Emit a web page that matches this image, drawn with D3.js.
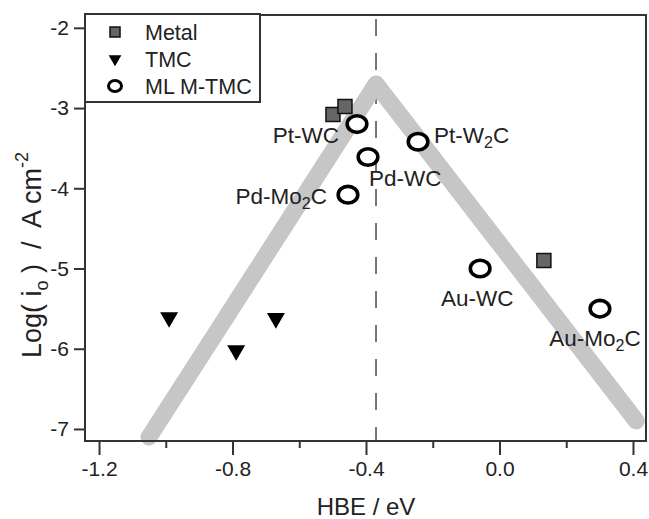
<!DOCTYPE html>
<html>
<head>
<meta charset="utf-8">
<script src="https://cdn.jsdelivr.net/npm/d3@7"></script>
<style>
  body { margin: 0; background: #fff; }
  svg text { font-family: "Liberation Sans", Arial, sans-serif; fill: #222; }
</style>
</head>
<body>
<svg id="chart" width="649" height="519"></svg>
<script>
// data
var metalHBE = [-0.499, -0.463, 0.133];
var metalLog = [-3.08, -2.98, -4.90];

var tmcHBE = [-0.990, -0.789, -0.670];
var tmcLog = [-5.61, -6.02, -5.62];

var mlNames = ["Pt-WC", "Pd-WC", "Pd-Mo2C", "Pt-W2C", "Au-WC", "Au-Mo2C"];
var mlHBE = [-0.427, -0.394, -0.454, -0.244, -0.058, 0.301];
var mlLog = [-3.20, -3.61, -4.08, -3.42, -5.00, -5.50];

// volcano guide line
var volcanoHBE = [-1.05, -0.37, 0.41];
var volcanoLog = [-7.1, -2.7, -6.9];
var optimumHBE = -0.37;

var xTicks = [-1.2, -0.8, -0.4, 0.0, 0.4];
var xMinorTicks = [-1.0, -0.6, -0.2, 0.2];
var yTicks = [-2, -3, -4, -5, -6, -7];

var legendNames = ["Metal", "TMC", "ML M-TMC"];

// label placement next to each ML marker: [dx, dy, anchor]
var labelPlace = [
  [-18, 11, "end"],
  [1, 21, "start"],
  [-21, 1, "end"],
  [16, -7, "start"],
  [-3, 29, "middle"],
  [-5, 29, "middle"]
];

var svg = d3.select("#chart");
var pLeft = 85, pRight = 646, pTop = 15, pBottom = 441;

var x = d3.scaleLinear().domain([-1.242, 0.439]).range([pLeft, pRight]);
var y = d3.scaleLinear().domain([-7.15, -1.84]).range([pBottom, pTop]);

// dashed line at the optimum
svg.append("line")
  .attr("x1", x(optimumHBE)).attr("x2", x(optimumHBE))
  .attr("y1", pTop).attr("y2", pBottom)
  .attr("stroke", "#555")
  .attr("stroke-width", 1.6)
  .attr("stroke-dasharray", "17,17")
  .attr("stroke-dashoffset", -4);

// grey volcano
var line = d3.line()
  .x(function(d, i) { return x(volcanoHBE[i]); })
  .y(function(d) { return y(d); });
svg.append("path")
  .datum(volcanoLog)
  .attr("d", line)
  .attr("fill", "none")
  .attr("stroke", "#c6c6c6")
  .attr("stroke-width", 17)
  .attr("stroke-linecap", "round")
  .attr("stroke-linejoin", "round");

// frame
svg.append("rect")
  .attr("x", pLeft).attr("y", pTop)
  .attr("width", pRight - pLeft).attr("height", pBottom - pTop)
  .attr("fill", "none")
  .attr("stroke", "#333")
  .attr("stroke-width", 2);

// axes
var gx = svg.append("g")
  .attr("transform", "translate(0," + pBottom + ")")
  .call(d3.axisBottom(x).tickValues(xTicks).tickSize(14).tickPadding(6)
    .tickFormat(function(d) { return d.toFixed(1); }));
var gxMinor = svg.append("g")
  .attr("transform", "translate(0," + pBottom + ")")
  .call(d3.axisBottom(x).tickValues(xMinorTicks).tickSize(7).tickFormat(""));
var gy = svg.append("g")
  .attr("transform", "translate(" + pLeft + ",0)")
  .call(d3.axisLeft(y).tickValues(yTicks).tickSize(11).tickPadding(5)
    .tickFormat(function(d) { return String(d); }));

[gx, gxMinor, gy].forEach(function(g) {
  g.select(".domain").remove();
  g.selectAll(".tick line").attr("stroke", "#333").attr("stroke-width", 2);
  g.selectAll(".tick text")
    .attr("font-size", 21)
    .attr("fill", "#222")
    .attr("font-family", "Liberation Sans, Arial, sans-serif");
});

// axis titles
svg.append("text")
  .attr("x", 366)
  .attr("y", 515)
  .attr("text-anchor", "middle")
  .attr("font-size", 24)
  .text("HBE / eV");

var yt = svg.append("text")
  .attr("transform", "translate(41,255) rotate(-90)")
  .attr("text-anchor", "middle")
  .attr("font-size", 27)
  .attr("xml:space", "preserve");
yt.append("tspan").text("Log( i");
yt.append("tspan").attr("font-size", 18).attr("dy", 7).text("o");
yt.append("tspan").attr("dy", -7).text(" )  /  A cm");
yt.append("tspan").attr("font-size", 18).attr("dy", -13).text("-2");

// markers
var squareSym = d3.symbol(d3.symbolSquare, 196);
var triSym = d3.symbol(d3.symbolTriangle, 140);

svg.append("g").selectAll("path")
  .data(tmcLog)
  .join("path")
  .attr("d", triSym)
  .attr("transform", function(d, i) { return "translate(" + x(tmcHBE[i]) + "," + y(d) + ") rotate(180)"; })
  .attr("fill", "#000");

svg.append("g").selectAll("path")
  .data(metalLog)
  .join("path")
  .attr("d", squareSym)
  .attr("transform", function(d, i) { return "translate(" + x(metalHBE[i]) + "," + y(d) + ")"; })
  .attr("fill", "#666")
  .attr("stroke", "#111")
  .attr("stroke-width", 1.5);

svg.append("g").selectAll("ellipse")
  .data(mlLog)
  .join("ellipse")
  .attr("cx", function(d, i) { return x(mlHBE[i]); })
  .attr("cy", function(d) { return y(d); })
  .attr("rx", 9.8)
  .attr("ry", 8.3)
  .attr("fill", "#fff")
  .attr("stroke", "#000")
  .attr("stroke-width", 3.6);

// labels with subscript 2
var labels = svg.append("g").selectAll("text")
  .data(mlNames)
  .join("text")
  .attr("x", function(d, i) { return x(mlHBE[i]) + labelPlace[i][0]; })
  .attr("y", function(d, i) { return y(mlLog[i]) + labelPlace[i][1] + 8; })
  .attr("text-anchor", function(d, i) { return labelPlace[i][2]; })
  .attr("font-size", 22.5);
labels.each(function(d) {
  var t = d3.select(this);
  var parts = d.split("2");
  if (parts.length === 1) { t.text(d); return; }
  t.append("tspan").text(parts[0]);
  t.append("tspan").attr("font-size", 16).attr("dy", 5).text("2");
  t.append("tspan").attr("dy", -5).text(parts[1]);
});

// legend
var legend = svg.append("g");
legend.append("rect")
  .attr("x", 85).attr("y", 14)
  .attr("width", 175).attr("height", 88)
  .attr("fill", "#fff")
  .attr("stroke", "#333")
  .attr("stroke-width", 2);

var rows = legend.selectAll("g.row")
  .data(legendNames)
  .join("g")
  .attr("class", "row")
  .attr("transform", function(d, i) { return "translate(115," + (32 + i * 27) + ")"; });

rows.each(function(d, i) {
  var r = d3.select(this);
  if (i === 0) {
    r.append("path").attr("d", d3.symbol(d3.symbolSquare, 100))
      .attr("fill", "#666").attr("stroke", "#111").attr("stroke-width", 1.5);
  } else if (i === 1) {
    r.append("path").attr("d", d3.symbol(d3.symbolTriangle, 70))
      .attr("transform", "rotate(180)").attr("fill", "#000");
  } else {
    r.append("ellipse").attr("rx", 6.5).attr("ry", 5.5)
      .attr("fill", "#fff").attr("stroke", "#000").attr("stroke-width", 3);
  }
  r.append("text")
    .attr("x", 30).attr("y", 7.5)
    .attr("font-size", 21.5)
    .text(d);
});
</script>
</body>
</html>
